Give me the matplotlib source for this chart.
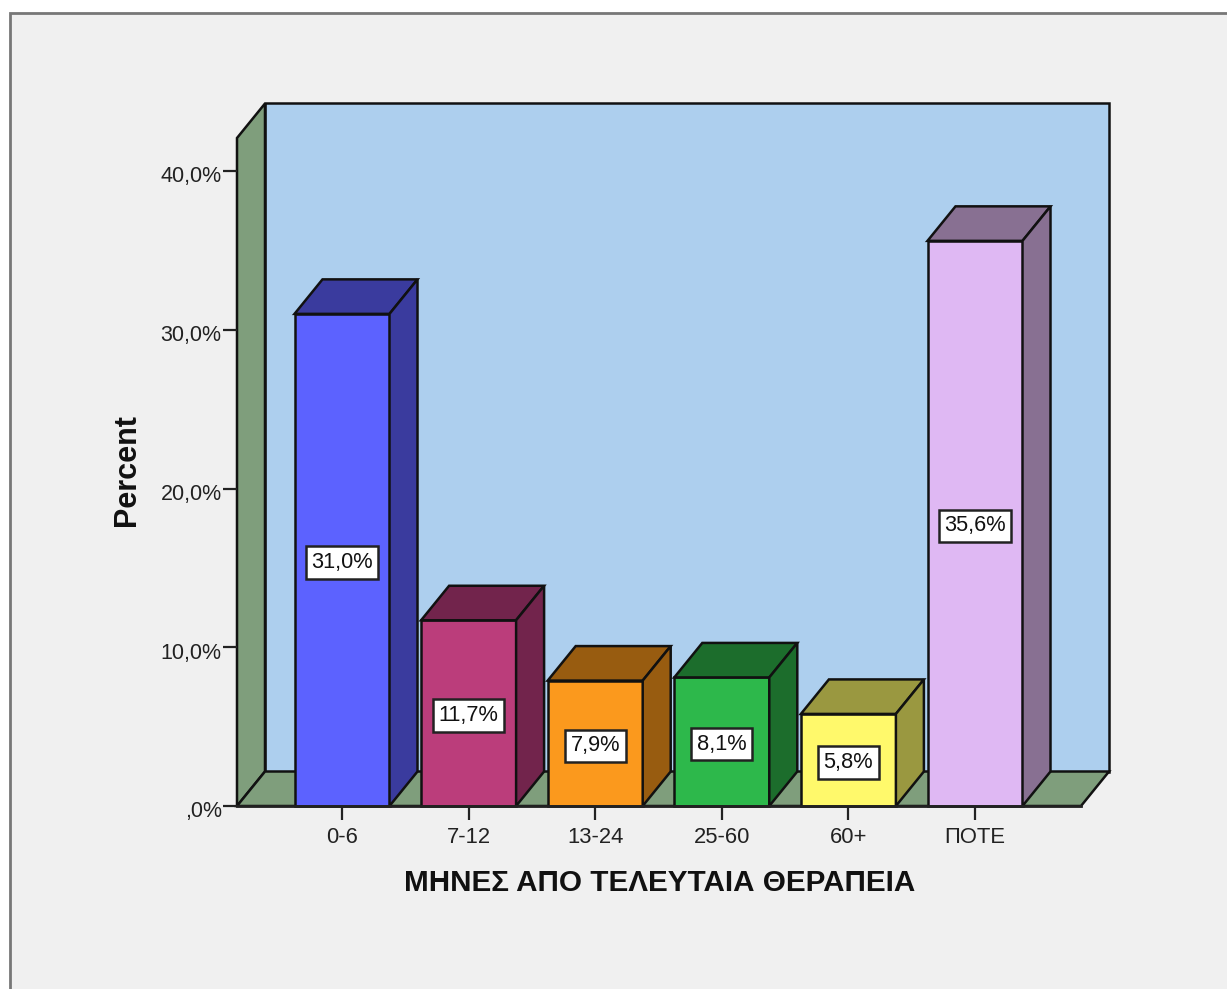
#!/usr/bin/env python3
"""Percent of patients by months since last therapy, SPSS style 3D bars"""

import matplotlib
matplotlib.use('Agg')
import matplotlib.pyplot as plt
from matplotlib.patches import Rectangle
from matplotlib.transforms import ScaledTranslation

categories = ['0-6', '7-12', '13-24', '25-60', '60+', 'ΠΟΤΕ']
percent = [31.0, 11.7, 7.9, 8.1, 5.8, 35.6]
value_labels = ['31,0%', '11,7%', '7,9%', '8,1%', '5,8%', '35,6%']
y_ticks = [0, 10, 20, 30, 40]
y_tick_labels = [',0%', '10,0%', '20,0%', '30,0%', '40,0%']
front_colors = ['#5C62FF', '#BB3D7B', '#FB991D', '#2DB84B', '#FFF96B', '#DFB8F3']
side_colors = ['#3A3B9E', '#72244C', '#985C10', '#1C6D2C', '#9A9840', '#887092']

plt.rcParams['font.family'] = ['Liberation Sans', 'DejaVu Sans']

W, H = 1227, 989
LINE = '#111111'
WALL = '#ADCFEE'
FLOOR = '#7F9E7C'
BG = '#F0F0F0'

fig = plt.figure(figsize=(W / 100, H / 100), dpi=100, facecolor='white')

# outer chart frame runs off the right and bottom edges of the picture
fig.add_artist(Rectangle((10 / W, -0.05), 1.1, (H - 13) / H + 0.05,
                         transform=fig.transFigure, facecolor=BG,
                         edgecolor='#777777', linewidth=2, zorder=-1))

ax = fig.add_axes([237 / W, (H - 806) / H, (1081 - 237) / W, (806 - 138) / H])
ax.patch.set_visible(False)

px_x = 126.6
px_y = 15.875
ax.set_xlim(-105 / px_x, (1081 - 342) / px_x)
ax.set_ylim(0, (806 - 138) / px_y)

# depth of the fake 3D box, in data units
dx = 28 / px_x
dy = 34.5 / px_y
x0, x1 = ax.get_xlim()
y1 = ax.get_ylim()[1]


def poly(xs, ys, color, z, lw=1.8):
    ax.fill(xs, ys, facecolor=color, edgecolor=LINE, linewidth=lw, zorder=z,
            clip_on=False, joinstyle='miter')


# back wall, left wall, floor
poly([x0 + dx, x1 + dx, x1 + dx, x0 + dx], [dy, dy, y1 + dy, y1 + dy], WALL, 1)
poly([x0, x0 + dx, x0 + dx, x0], [0, dy, y1 + dy, y1], FLOOR, 1)
poly([x0, x1, x1 + dx, x0 + dx], [0, 0, dy, dy], FLOOR, 1)

bar_w = 95 / px_x
for i, (val, lab) in enumerate(zip(percent, value_labels)):
    left = i - bar_w / 2
    right = i + bar_w / 2
    ax.bar(i, val, width=bar_w, color=front_colors[i], edgecolor=LINE,
           linewidth=1.8, zorder=3, clip_on=False)
    poly([left, right, right + dx, left + dx], [val, val, val + dy, val + dy],
         side_colors[i], 3)
    poly([right, right + dx, right + dx, right], [0, dy, val + dy, val],
         side_colors[i], 3)
    ax.annotate(lab, (i, val / 2), xytext=(0, -1.8), textcoords='offset points',
                ha='center', va='center', fontsize=15.7, color='#111111', zorder=5,
                bbox=dict(boxstyle='square,pad=0.26', facecolor='white',
                          edgecolor='#222222', linewidth=1.8))

ax.set_xticks(range(len(categories)))
ax.set_xticklabels(categories, fontsize=15.8, color='#222222')
ax.set_yticks(y_ticks)
ax.set_yticklabels(y_tick_labels, fontsize=15.5, color='#222222')
ax.tick_params(axis='x', length=10, width=1.6, color='#222222', pad=5)
ax.tick_params(axis='y', length=10, width=1.6, color='#222222', pad=1)

# tick labels of the y axis sit a little under their tick
nudge = ScaledTranslation(0, -2.5 / 72, fig.dpi_scale_trans)
for label in ax.get_yticklabels():
    label.set_transform(label.get_transform() + nudge)

for name in ['top', 'right', 'left']:
    ax.spines[name].set_visible(False)
ax.spines['bottom'].set_linewidth(2)
ax.spines['bottom'].set_color('#222222')
ax.spines['bottom'].set_zorder(4)

ax.set_xlabel('ΜΗΝΕΣ ΑΠΟ ΤΕΛΕΥΤΑΙΑ ΘΕΡΑΠΕΙΑ', fontsize=21.3, fontweight='bold',
              color='#111111')
ax.xaxis.set_label_coords((659.5 - 237) / (1081 - 237), -(883 - 806) / (806 - 138))
ax.xaxis.label.set_va('center')
ax.set_ylabel('Percent', fontsize=22, fontweight='bold', color='#111111')
ax.yaxis.set_label_coords((127 - 237) / (1081 - 237), (806 - 470) / (806 - 138))
ax.yaxis.label.set_va('center')

plt.savefig('out.png', dpi=100)
